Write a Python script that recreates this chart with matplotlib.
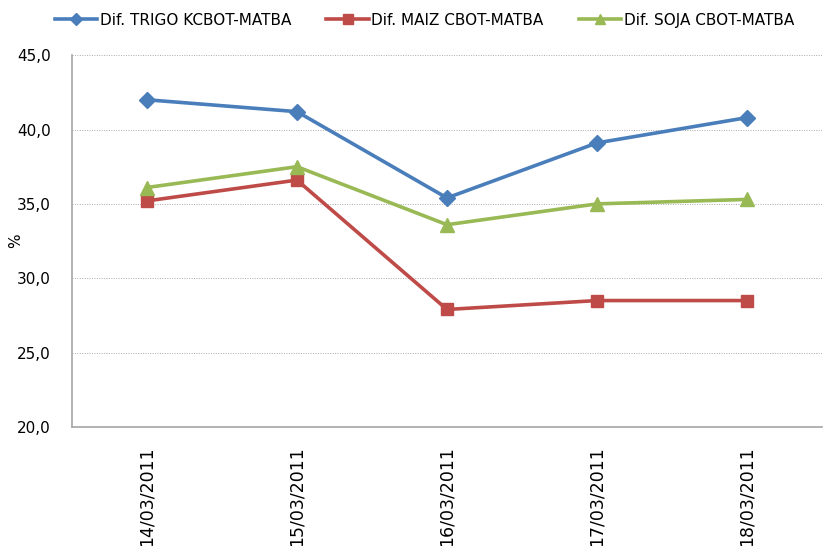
import matplotlib
matplotlib.use('Agg')
import matplotlib.pyplot as plt
from matplotlib.ticker import FuncFormatter

# data
fechas = ['14/03/2011', '15/03/2011', '16/03/2011', '17/03/2011', '18/03/2011']
trigo = [42.0, 41.2, 35.4, 39.1, 40.8]
maiz = [35.2, 36.6, 27.9, 28.5, 28.5]
soja = [36.1, 37.5, 33.6, 35.0, 35.3]

plt.rcParams['font.family'] = ['DejaVu Sans']

fig = plt.figure(figsize=(8.27, 5.46), dpi=100)
ax = fig.add_axes([0.087, 0.218, 0.907, 0.681])

x = range(len(fechas))
ax.plot(x, trigo, color='#4A7EBB', lw=2.6, marker='D', ms=8,
        label='Dif. TRIGO KCBOT-MATBA')
ax.plot(x, maiz, color='#BE4B48', lw=2.6, marker='s', ms=9,
        label='Dif. MAIZ CBOT-MATBA')
ax.plot(x, soja, color='#98B954', lw=2.6, marker='^', ms=10,
        label='Dif. SOJA CBOT-MATBA')

ax.set_xlim(-0.5, len(fechas) - 0.5)
ax.set_ylim(20, 45)
ax.set_yticks([20, 25, 30, 35, 40, 45])
ax.yaxis.set_major_formatter(FuncFormatter(lambda v, p: ('%.1f' % v).replace('.', ',')))
ax.set_xticks(list(x))
ax.set_xticklabels(fechas, rotation=90, fontsize=12.5)
ax.tick_params(axis='y', labelsize=11, length=0, pad=15)
ax.tick_params(axis='x', length=0, pad=14)

ax.grid(axis='y', linestyle=(0, (1, 1.5)), color='#AAAAAA', lw=0.7)
ax.set_axisbelow(True)
for s in ['top', 'right']:
    ax.spines[s].set_visible(False)
for s in ['left', 'bottom']:
    ax.spines[s].set_color('#A6A6A6')
    ax.spines[s].set_linewidth(1.2)

# y axis title sits right next to the tick labels
fig.text(0.019, 0.56, '%', fontsize=11, rotation=90, ha='center', va='center')

fig.legend(loc='center', bbox_to_anchor=(0.513, 0.963), ncol=3, frameon=False,
           fontsize=11, handlelength=2.8, columnspacing=2.3, handletextpad=0.15,
           markerscale=0.75)

fig.savefig('out.png', dpi=100)
